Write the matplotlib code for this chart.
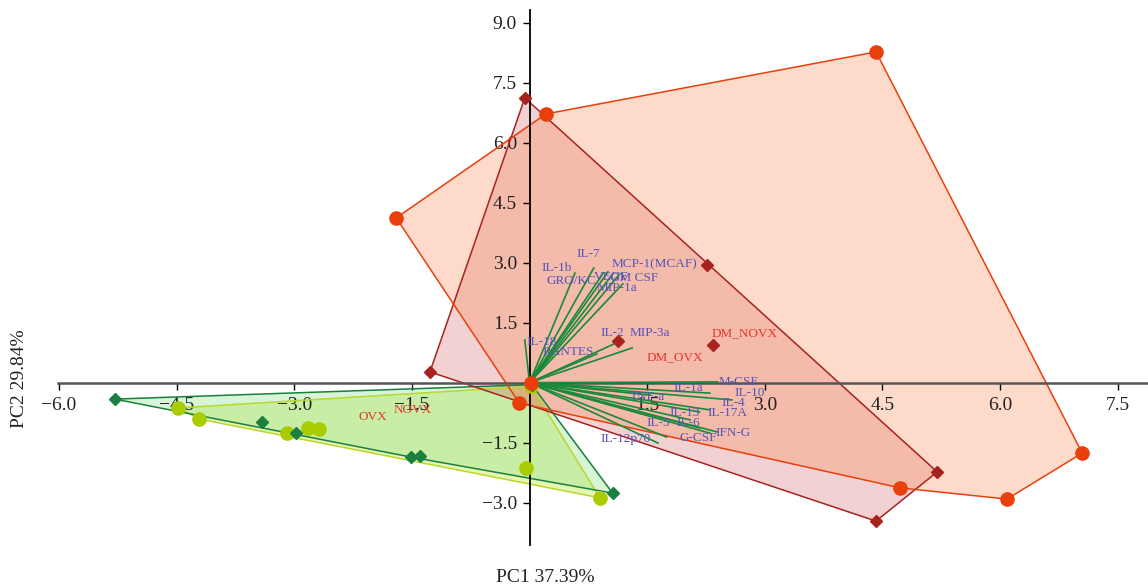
import matplotlib
matplotlib.use("Agg")
import matplotlib.pyplot as plt
import numpy as np

# ---------------- data ----------------
orange_x = [4.42, 0.21, -1.70, 7.05, 6.09, 4.73, -0.13, 0.02]
orange_y = [8.27, 6.72, 4.12, -1.76, -2.91, -2.63, -0.51, 0.00]

darkred_x = [-0.06, 2.26, 2.34, 1.13, -1.27, 5.20, 4.42]
darkred_y = [7.12, 2.94, 0.94, 1.04, 0.27, -2.23, -3.46]

green_x = [-5.29, -3.41, -2.98, -1.51, -1.40, 1.06, 0.03]
green_y = [-0.41, -0.98, -1.25, -1.86, -1.83, -2.76, -0.05]

lime_x = [-4.48, -4.21, -3.09, -2.82, -2.68, -0.04, 0.90, 0.02]
lime_y = [-0.63, -0.91, -1.26, -1.13, -1.16, -2.14, -2.88, -0.09]

group_labels = ["DM_NOVX", "DM_OVX", "NOVX", "OVX"]
group_label_x = [2.75, 1.86, -1.49, -2.00]
group_label_y = [1.24, 0.64, -0.68, -0.86]

var_names = ["IL-7", "IL-1b", "GRO/KC", "VEGF", "GM CSF", "MCP-1(MCAF)", "MIP-1a",
             "IL-18", "RANTES", "IL-2", "MIP-3a", "M-CSF", "IL-1a", "IL-10", "TNF-a",
             "IL-4", "IL-17A", "IL-13", "IL-5", "IL-6", "IFN-G", "G-CSF", "IL-12p70"]
var_x = [0.82, 0.58, 0.94, 1.00, 1.07, 1.15, 1.19,
         -0.06, 0.86, 1.19, 1.31, 2.40, 2.30, 2.58, 1.54,
         2.30, 2.17, 2.05, 1.75, 2.17, 2.39, 2.30, 1.64]
var_y = [2.87, 2.74, 2.74, 2.77, 2.74, 2.72, 2.47,
         1.07, 0.72, 1.07, 0.87, 0.02, -0.26, -0.43, -0.31,
         -0.68, -0.73, -0.93, -1.36, -1.13, -1.23, -1.26, -1.51]
var_label_x = [0.75, 0.35, 0.53, 1.04, 1.33, 1.60, 1.12,
               0.16, 0.49, 1.05, 1.54, 2.66, 2.02, 2.81, 1.51,
               2.60, 2.53, 1.98, 1.64, 2.02, 2.60, 2.15, 1.22]
var_label_y = [3.22, 2.87, 2.54, 2.64, 2.62, 2.97, 2.37,
               1.02, 0.77, 1.24, 1.24, 0.02, -0.13, -0.26, -0.36,
               -0.51, -0.76, -0.76, -1.01, -1.01, -1.26, -1.38, -1.41]

xticks = [-6.0, -4.5, -3.0, -1.5, 1.5, 3.0, 4.5, 6.0, 7.5]
yticks = [-3.0, -1.5, 1.5, 3.0, 4.5, 6.0, 7.5, 9.0]
xlabel = "PC1 37.39%"
ylabel = "PC2 29.84%"


def hull(xs, ys):
    pts = sorted(set(zip(xs, ys)))

    def cross(o, a, b):
        return (a[0] - o[0]) * (b[1] - o[1]) - (a[1] - o[1]) * (b[0] - o[0])
    lower, upper = [], []
    for p in pts:
        while len(lower) >= 2 and cross(lower[-2], lower[-1], p) <= 0:
            lower.pop()
        lower.append(p)
    for p in reversed(pts):
        while len(upper) >= 2 and cross(upper[-2], upper[-1], p) <= 0:
            upper.pop()
        upper.append(p)
    return np.array(lower[:-1] + upper[:-1])


plt.rcParams['font.family'] = ['Liberation Serif', 'DejaVu Serif']

fig = plt.figure(figsize=(11.48, 5.86), dpi=100)
ax = fig.add_axes([0, 0, 1, 1])
ax.set_xlim(-6.754, 7.889)
ax.set_ylim(-5.0825, 9.5675)

groups = [
    (lime_x, lime_y, '#b5e61d', '#b8d82a', 0.35, '#a8cc00', 'o', 9.5),
    (green_x, green_y, '#8fe08f', '#1a8040', 0.35, '#1a8040', 'D', 6.5),
    (darkred_x, darkred_y, '#c84a4a', '#a82320', 0.25, '#a82320', 'D', 6.5),
    (orange_x, orange_y, '#fb8c5a', '#e8400c', 0.32, '#e8400c', 'o', 9.5),
]
# fills
for gx, gy, fc, ec, a, pc, mk, ms in groups:
    h = hull(gx, gy)
    ax.fill(h[:, 0], h[:, 1], facecolor=fc, alpha=a, edgecolor='none', zorder=1)
# edges
for gx, gy, fc, ec, a, pc, mk, ms in groups:
    h = hull(gx, gy)
    hc = np.vstack([h, h[:1]])
    ax.plot(hc[:, 0], hc[:, 1], color=ec, lw=1.1, zorder=2)

# loadings
for vx, vy in zip(var_x, var_y):
    ax.plot([0, vx], [0, vy], color='#1a8a3a', lw=1.2, zorder=3)

# points
for gx, gy, fc, ec, a, pc, mk, ms in groups:
    ax.plot(gx, gy, linestyle='none', marker=mk, ms=ms, color=pc,
            markeredgecolor=pc, zorder=4)

for name, lx, ly in zip(var_names, var_label_x, var_label_y):
    ax.text(lx, ly, name, color='#5555bb', fontsize=9.5, ha='center',
            va='center', zorder=5)
for name, lx, ly in zip(group_labels, group_label_x, group_label_y):
    ax.text(lx, ly, name, color='#e03a2a', fontsize=9.5, ha='center',
            va='center', zorder=5)

# axes through origin
for s in ['top', 'right']:
    ax.spines[s].set_visible(False)
ax.spines['left'].set_position(('data', 0))
ax.spines['bottom'].set_position(('data', 0))
ax.spines['left'].set_bounds(-4.06, 9.32)
ax.spines['bottom'].set_bounds(-6.01, 7.889)
ax.spines['left'].set_color('black')
ax.spines['left'].set_linewidth(1.3)
ax.spines['bottom'].set_color('#555555')
ax.spines['bottom'].set_linewidth(1.8)
ax.spines['left'].set_zorder(2.5)
ax.spines['bottom'].set_zorder(2.5)

ax.set_xticks(xticks)
ax.set_xticklabels([f"{t:.1f}".replace('-', '\u2212') for t in xticks])
ax.set_yticks(yticks)
ax.set_yticklabels([f"{t:.1f}".replace('-', '\u2212') for t in yticks])
ax.tick_params(axis='both', direction='out', length=5, width=1, labelsize=14,
               color='black', labelcolor='#222222')
ax.tick_params(axis='x', pad=5)
ax.tick_params(axis='y', pad=4)
ax.patch.set_visible(False)

fig.text(545 / 1148, 1 - 578 / 586, xlabel, ha='center', va='center',
         fontsize=14, color='#222222')
fig.text(20 / 1148, 1 - 379 / 586, ylabel, ha='center', va='center',
         fontsize=14, rotation=90, color='#222222')

fig.savefig('out.png', dpi=100)
